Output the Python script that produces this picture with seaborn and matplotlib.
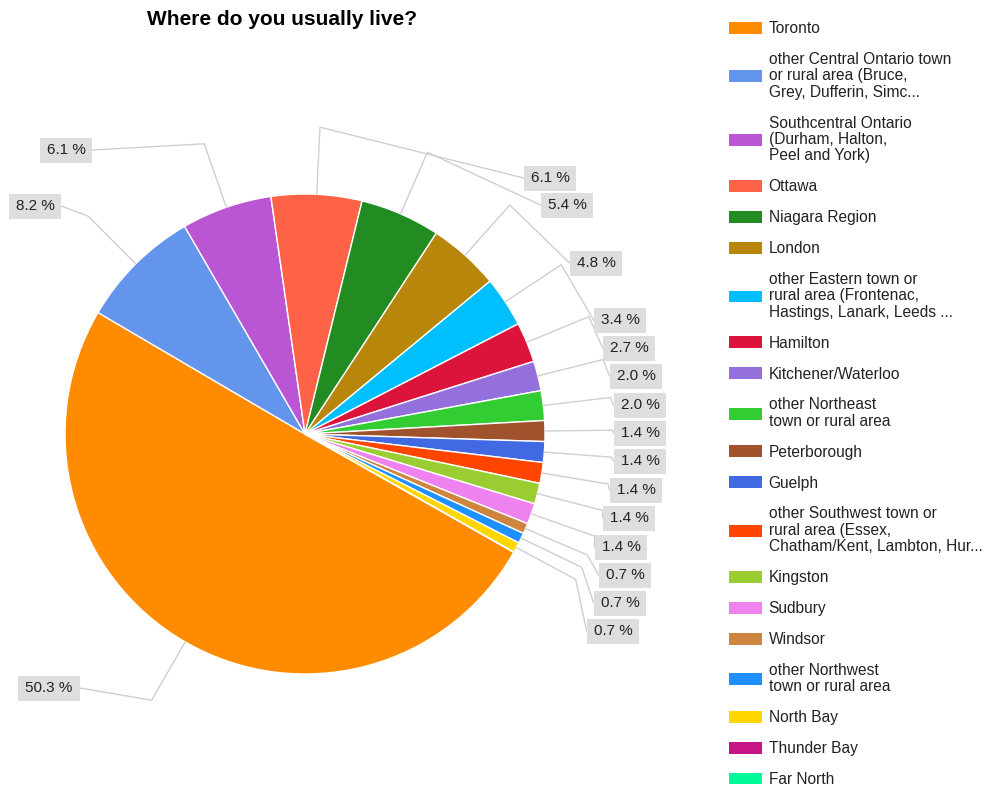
import numpy as np
import matplotlib
matplotlib.use("Agg")
import matplotlib.pyplot as plt
from matplotlib.patches import Patch, Rectangle
import seaborn as sns

# ---- data -------------------------------------------------------------
categories = [
    "Toronto",
    "other Central Ontario town\nor rural area (Bruce,\nGrey, Dufferin, Simc...",
    "Southcentral Ontario\n(Durham, Halton,\nPeel and York)",
    "Ottawa",
    "Niagara Region",
    "London",
    "other Eastern town or\nrural area (Frontenac,\nHastings, Lanark, Leeds ...",
    "Hamilton",
    "Kitchener/Waterloo",
    "other Northeast\ntown or rural area",
    "Peterborough",
    "Guelph",
    "other Southwest town or\nrural area (Essex,\nChatham/Kent, Lambton, Hur...",
    "Kingston",
    "Sudbury",
    "Windsor",
    "other Northwest\ntown or rural area",
    "North Bay",
    "Thunder Bay",
    "Far North",
]
shares = [50.3, 8.2, 6.1, 6.1, 5.4, 4.8, 3.4, 2.7, 2.0, 2.0,
          1.4, 1.4, 1.4, 1.4, 1.4, 0.7, 0.7, 0.7, 0.0, 0.0]
colors = ["darkorange", "cornflowerblue", "mediumorchid", "tomato",
          "forestgreen", "darkgoldenrod", "deepskyblue", "crimson",
          "mediumpurple", "limegreen", "sienna", "royalblue", "orangered",
          "yellowgreen", "violet", "peru", "dodgerblue", "gold",
          "mediumvioletred", "mediumspringgreen"]
title = "Where do you usually live?"

# ---- layout (pixels, origin top-left) ----------------------------------
W, H = 985, 786
CX, CY_TOP, R = 305, 434, 240
START = -29.5
ELBOW = 1.28
# percentage label centres, one per non-empty slice, in slice order
label_xy = [(49, 688), (35, 206), (66, 150), (550, 178), (567, 205),
            (596, 263), (620, 320), (629, 348), (636, 376), (640, 405),
            (640, 433), (640, 461), (636, 490), (629, 518), (621, 547),
            (625, 575), (620, 603), (613, 631)]

sns.set_theme(style="white")
plt.rcParams["font.family"] = ["Liberation Sans", "DejaVu Sans"]

fig = plt.figure(figsize=(W / 100, H / 100), dpi=100)
ax = fig.add_axes([0, 0, 1, 1])
CY = H - CY_TOP

wedges, _ = ax.pie(shares, colors=sns.color_palette(colors),
                   startangle=START, counterclock=False,
                   radius=R, center=(CX, CY),
                   wedgeprops=dict(edgecolor="white", linewidth=1.0))
ax.set_xlim(0, W)
ax.set_ylim(0, H)
ax.set_aspect("equal")
ax.axis("off")

renderer = fig.canvas.get_renderer()
line_color = "#cfcfcf"
box_color = "#dedede"
k = 0
for w, v in zip(wedges, shares):
    if v <= 0:
        continue
    mid = np.deg2rad((w.theta1 + w.theta2) / 2)
    lx, ly = label_xy[k]
    ly = H - ly
    k += 1
    t = ax.text(lx, ly, f"{v:.1f} %", ha="center", va="center",
                fontsize=11, color="#222222", zorder=5)
    bb = t.get_window_extent(renderer)
    bw, bh = bb.width + 14, 25
    ax.add_patch(Rectangle((lx - bw / 2, ly - bh / 2), bw, bh,
                           facecolor=box_color, edgecolor="none", zorder=4))
    ax_, ay_ = CX + R * np.cos(mid), CY + R * np.sin(mid)
    ex, ey = CX + ELBOW * R * np.cos(mid), CY + ELBOW * R * np.sin(mid)
    tx = lx - bw / 2 if lx > CX else lx + bw / 2
    ax.plot([ax_, ex, tx], [ay_, ey, ly], color=line_color, lw=1.0,
            zorder=1, solid_joinstyle="miter")

ax.text(282, H - 25, title, ha="center", va="baseline",
        fontsize=15, fontweight="bold", color="#000000")

handles = [Patch(facecolor=c, edgecolor="none") for c in colors]
leg = ax.legend(handles, categories, loc="upper left",
                bbox_to_anchor=(729 / W, (H - 21) / H),
                frameon=False, fontsize=11.2, labelcolor="#222222",
                handlelength=2.1, handleheight=0.8, handletextpad=0.45,
                labelspacing=1.02, borderpad=0, borderaxespad=0)
for txt in leg.get_texts():
    txt.set_linespacing(1.12)

fig.savefig("out.png", dpi=100, facecolor="white")
